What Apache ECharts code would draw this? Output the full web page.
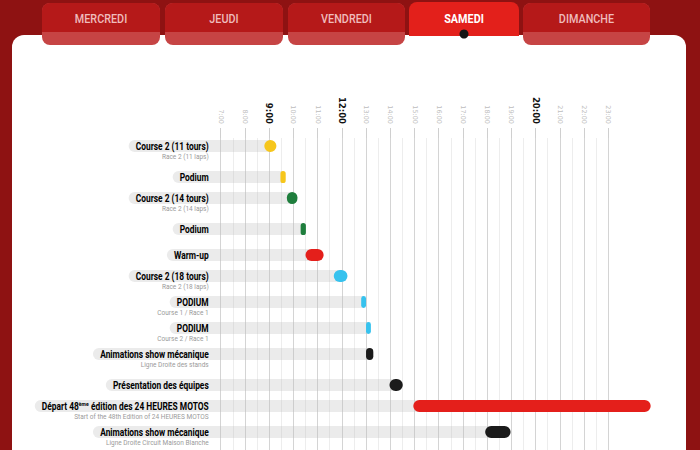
<!DOCTYPE html>
<html><head><meta charset="utf-8">
<script src="https://cdn.jsdelivr.net/npm/echarts@6/dist/echarts.min.js"></script>
<style>html,body{margin:0;padding:0;background:#8e1212;}#c{width:700px;height:450px;}</style>
</head><body><div id="c"></div>
<script>
// ---- data ----
const days = ['MERCREDI', 'JEUDI', 'VENDREDI', 'SAMEDI', 'DIMANCHE'];
const activeDay = 'SAMEDI';
const hourTicks = [7, 8, 9, 10, 11, 12, 13, 14, 15, 16, 17, 18, 19, 20, 21, 22, 23];
const tickLabels = ['7:00', '8:00', '9:00', '10:00', '11:00', '12:00', '13:00', '14:00', '15:00', '16:00', '17:00', '18:00', '19:00', '20:00', '21:00', '22:00', '23:00'];
const boldTicks = ['9:00', '12:00', '20:00'];
const titles = [
  'Course 2 (11 tours)', 'Podium', 'Course 2 (14 tours)', 'Podium', 'Warm-up',
  'Course 2 (18 tours)', 'PODIUM', 'PODIUM', 'Animations show mécanique',
  'Présentation des équipes', 'Départ 48ème édition des 24 HEURES MOTOS', 'Animations show mécanique'
];
const subtitles = [
  'Race 2 (11 laps)', '', 'Race 2 (14 laps)', '', '',
  'Race 2 (18 laps)', 'Course 1 / Race 1', 'Course 2 / Race 1', 'Ligne Droite des stands',
  '', 'Start of the 48th Edition of 24 HEURES MOTOS', 'Ligne Droite Circuit Maison Blanche'
];
const starts = ['08:48', '09:28', '09:44', '10:18', '10:30', '11:40', '12:48', '13:00', '13:00', '13:58', '14:57', '17:55'];
const ends   = ['09:18', '09:41', '10:10', '10:31', '11:15', '12:14', '13:00', '13:12', '13:18', '14:31', '24:45', '18:58'];
const colors = ['#f6c61c', '#f6c61c', '#1f7e3d', '#1f7e3d', '#e41f1b', '#36c2ee', '#36c2ee', '#36c2ee', '#1b1b1b', '#1b1b1b', '#e41f1b', '#1b1b1b'];

// ---- helpers ----
function toH(s) { const p = s.split(':').map(Number); return p[0] + p[1] / 60; }
const TITLE_FONT = 'Roboto, sans-serif';
const TFS = 10, SFS = 6.5, SUPFS = 6, TSCALE = 0.84, SSCALE = 1.0;
const mctx = document.createElement('canvas').getContext('2d');
function mw(text, size, bold) { mctx.font = (bold ? 'bold ' : '') + size + 'px ' + TITLE_FONT; return mctx.measureText(text).width; }
function titleParts(t) { return t.split(/(ème)/).filter(s => s.length); }
function titleWidth(t) { return TSCALE * titleParts(t).reduce((a, p) => a + (p === 'ème' ? mw(p, SUPFS, true) : mw(p, TFS, true)), 0); }
function titleRich(t) { return titleParts(t).map(p => p === 'ème' ? '{s|' + p + '}' : '{t|' + p + '}').join(''); }

const rows = titles.map((t, i) => [i, toH(starts[i]), toH(ends[i])]);

// ---- decorations ----
const tabBoxes = [[42, 160], [165, 283], [288, 405], [409, 519], [523, 650]];
const graphics = [
  { type: 'rect', z: -100, shape: { x: 12, y: 35, width: 674, height: 460, r: 12 }, style: { fill: '#ffffff' } }
];
days.forEach((d, i) => {
  const [a, b] = tabBoxes[i];
  const cx = (a + b) / 2;
  if (d === activeDay) {
    graphics.push({ type: 'rect', z: 50, shape: { x: a, y: 2, width: b - a, height: 34, r: [8, 8, 0, 0] }, style: { fill: '#e3201b' } });
    graphics.push({ type: 'text', z: 51, x: cx, y: 19, scaleX: 0.8, style: { text: d, x: 0, y: 0, align: 'center', verticalAlign: 'middle', fill: '#ffffff', font: 'bold 13.5px Roboto, sans-serif' } });
    graphics.push({ type: 'circle', z: 52, shape: { cx: cx, cy: 34, r: 4.5 }, style: { fill: '#151515' } });
  } else {
    graphics.push({ type: 'rect', z: 50, shape: { x: a, y: 3, width: b - a, height: 42, r: 8 }, style: { fill: '#c64444' } });
    graphics.push({ type: 'rect', z: 50, shape: { x: a, y: 3, width: b - a, height: 29, r: [8, 8, 0, 0] }, style: { fill: '#b51919' } });
    graphics.push({ type: 'text', z: 51, x: cx, y: 19, scaleX: 0.8, style: { text: d, x: 0, y: 0, align: 'center', verticalAlign: 'middle', fill: '#efbcbc', font: '500 13.5px Roboto, sans-serif' } });
  }
});

const chart = echarts.init(document.getElementById('c'), null, { renderer: 'svg' });
chart.setOption({
  backgroundColor: '#8e1212',
  animation: false,
  graphic: graphics,
  grid: { left: 220.7, right: 91.7, top: 138, bottom: 0 },
  xAxis: {
    type: 'value', position: 'top', min: hourTicks[0], max: hourTicks[hourTicks.length - 1], interval: 1,
    axisLine: { show: false },
    axisTick: { show: true, length: 10, lineStyle: { color: '#cfcfcf' } },
    axisLabel: {
      rotate: 90, margin: 14,
      formatter: v => { const l = tickLabels[hourTicks.indexOf(v)] || ''; return boldTicks.includes(l) ? '{b|' + l + '}' : '{n|' + l + '}'; },
      rich: {
        b: { fontFamily: 'DejaVu Sans', fontWeight: 'bold', fontSize: 8.5, color: '#111111' },
        n: { fontFamily: 'DejaVu Sans', fontSize: 6.5, color: '#bdbdbd' }
      }
    },
    splitLine: { show: true, lineStyle: { color: '#d4d4d4', width: 1 } },
    minorTick: { show: false, splitNumber: 2 },
    minorSplitLine: { show: true, lineStyle: { color: '#ededed', width: 1 } }
  },
  yAxis: { type: 'category', data: titles.map((t, i) => i), inverse: true, show: false },
  series: [{
    type: 'custom', clip: false, data: rows, encode: { x: [1, 2], y: 0 },
    renderItem: function (params, api) {
      const i = api.value(0);
      const p0 = api.coord([api.value(1), i]);
      const p1 = api.coord([api.value(2), i]);
      const axisLeft = api.coord([hourTicks[0], i])[0];
      const sub = subtitles[i];
      const cy = p0[1] - (sub ? 5 : 0);
      const H = 12;
      const right = axisLeft - 12;
      const trackLeft = right - titleWidth(titles[i]) - 7;
      const w = Math.max(p1[0] - p0[0], 4);
      const ch = [
        { type: 'rect', shape: { x: trackLeft, y: cy - H / 2, width: p0[0] + w / 2 - trackLeft, height: H, r: [6, 0, 0, 6] }, style: { fill: 'rgba(190,190,190,0.3)' } },
        { type: 'rect', shape: { x: p0[0], y: cy - H / 2, width: w, height: H, r: Math.min(H / 2, w / 2) }, style: { fill: colors[i] } },
        { type: 'text', x: right, y: cy, scaleX: TSCALE, style: {
            text: titleRich(titles[i]), x: 0, y: 0, align: 'right', verticalAlign: 'middle',
            rich: {
              t: { fontFamily: TITLE_FONT, fontWeight: 'bold', fontSize: TFS, color: '#222222', lineHeight: 11 },
              s: { fontFamily: TITLE_FONT, fontWeight: 'bold', fontSize: SUPFS, color: '#222222', lineHeight: 11, verticalAlign: 'top' }
            }
        } }
      ];
      if (sub) ch.push({ type: 'text', x: right, y: cy + 10.5, scaleX: SSCALE, style: { text: sub, x: 0, y: 0, align: 'right', verticalAlign: 'middle', font: SFS + 'px ' + TITLE_FONT, fill: '#9a9a9a' } });
      return { type: 'group', children: ch };
    }
  }]
});
</script></body></html>
